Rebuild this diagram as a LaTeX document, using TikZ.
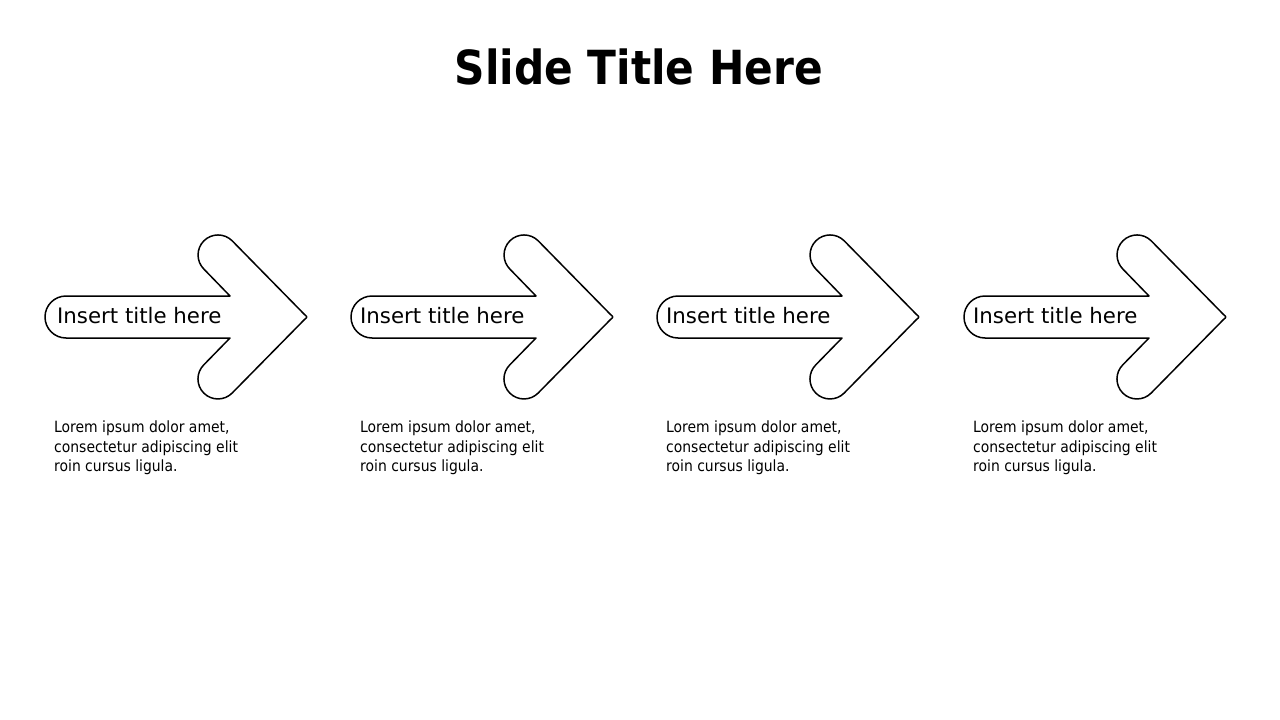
\documentclass[tikz,border=0pt]{standalone}
\usepackage{fontspec}
\setmainfont{DejaVu Sans}
\newfontfamily\condfont{DejaVu Sans Condensed}
\begin{document}
\begin{tikzpicture}[x=1pt,y=-1pt,
  arrowshape/.style={draw=black,line width=1.5pt,line join=round,fill=white},
  arrowlabel/.style={anchor=base west,inner sep=0pt,font=\fontsize{21.3}{25}\selectfont},
  bodytext/.style={anchor=base west,inner sep=0pt,align=left,font=\condfont\fontsize{15.5}{19.5}\selectfont},
  titletext/.style={anchor=base,inner sep=0pt,font=\condfont\bfseries\fontsize{47}{56}\selectfont}]
\useasboundingbox (0,0) rectangle (1280,720);
\node[titletext] (title) at (639,84) {Slide Title Here};
\foreach \ox/\lx/\tx [count=\i] in {0/57/54, 306/360/360, 612/666/666, 919/973/973}{
  \begin{scope}[xshift=\ox pt]
    \path[arrowshape] (66,296) -- (230,296) -- (203.9,269.1)
      arc[start angle=135,end angle=315,radius=20]
      -- (304.5,314.5) .. controls (307.5,317) .. (304.5,319.5)
      -- (232.1,393.1)
      arc[start angle=45,end angle=225,radius=20]
      -- (230,338) -- (66,338)
      arc[start angle=90,end angle=270,radius=21] -- cycle;
  \end{scope}
  \node[arrowlabel] (lab\i) at (\lx,323.5) {Insert title here};
  \node[bodytext] (body\i) at (\tx,471.5) {Lorem ipsum dolor amet,\\consectetur adipiscing elit\\roin cursus ligula.};
}
\end{tikzpicture}
\end{document}
